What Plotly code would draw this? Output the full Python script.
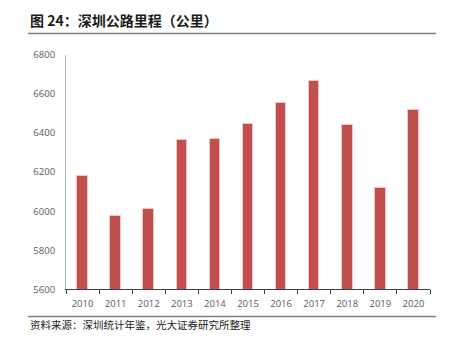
import plotly.graph_objects as go

W, H = 450, 343

years = ["2010", "2011", "2012", "2013", "2014", "2015", "2016", "2017", "2018", "2019", "2020"]
mileage = [6181, 5976, 6010, 6364, 6372, 6446, 6555, 6667, 6441, 6121, 6520]
y_ticks = [5600, 5800, 6000, 6200, 6400, 6600, 6800]

title_text = "图 24：深圳公路里程（公里）"
source_text = "资料来源：深圳统计年鉴，光大证券研究所整理"

# pixel helpers for layout (paper coords == page fractions because margins are 0)
def px(x):
    return x / W

def py(y):
    return 1 - y / H

plot_left, plot_right, plot_top, plot_bottom = 66, 430, 55, 289.3

fig = go.Figure()
fig.add_trace(go.Bar(
    x=years,
    y=mileage,
    width=0.32,
    marker=dict(color="#C0504D", line=dict(color="#F2C4C2", width=1)),
    showlegend=False,
))

fig.update_layout(
    width=W,
    height=H,
    margin=dict(l=0, r=0, t=0, b=0),
    paper_bgcolor="white",
    plot_bgcolor="white",
    bargap=0,
    xaxis=dict(
        domain=[px(plot_left), px(plot_right)],
        type="category",
        showgrid=False,
        showline=True,
        linecolor="#404040",
        linewidth=1,
        ticks="outside",
        ticklen=4,
        tickcolor="#404040",
        tickson="boundaries",
        ticklabelstandoff=5,
        tickfont=dict(family="Open Sans", size=9.5, color="#595959"),
        automargin=False,
        fixedrange=True,
    ),
    yaxis=dict(
        domain=[py(plot_bottom), py(plot_top)],
        range=[5600, 6800],
        tickvals=y_ticks,
        showgrid=False,
        zeroline=False,
        showline=True,
        linecolor="#A9B8CE",
        linewidth=1,
        ticks="",
        ticklabelstandoff=8,
        tickfont=dict(family="Open Sans", size=9.5, color="#595959"),
        automargin=False,
        fixedrange=True,
    ),
    shapes=[
        dict(type="line", xref="paper", yref="paper",
             x0=px(28), x1=px(436), y0=py(33.5), y1=py(33.5),
             line=dict(color="#7F7F7F", width=1.5)),
        dict(type="line", xref="paper", yref="paper",
             x0=px(28), x1=px(436), y0=py(316.5), y1=py(316.5),
             line=dict(color="#7F7F7F", width=1.5)),
    ],
    annotations=[
        dict(text="<b>" + title_text + "</b>", xref="paper", yref="paper",
             x=px(28), y=py(20), xanchor="left", yanchor="middle", showarrow=False,
             font=dict(family="Noto Sans CJK SC", size=14, color="#1a1a1a")),
        dict(text=source_text, xref="paper", yref="paper",
             x=px(28), y=py(324.5), xanchor="left", yanchor="middle", showarrow=False,
             font=dict(family="Noto Sans CJK SC", size=10.5, color="#1a1a1a")),
    ],
)

fig.write_html("out.html")
